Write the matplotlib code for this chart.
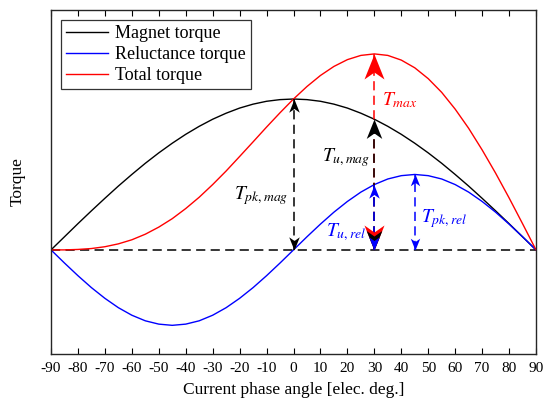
import matplotlib
matplotlib.use("Agg")
import matplotlib.pyplot as plt
from matplotlib.path import Path

plt.rcParams['font.family'] = ['Liberation Serif', 'DejaVu Serif']
plt.rcParams['mathtext.fontset'] = 'stix'

# current phase angle [elec. deg.], 5 deg steps
angle = list(range(-90, 95, 5))

magnet = [0.0, 0.087, 0.174, 0.259, 0.342, 0.423, 0.5, 0.574, 0.643, 0.707,
          0.766, 0.819, 0.866, 0.906, 0.94, 0.966, 0.985, 0.996, 1.0,
          0.996, 0.985, 0.966, 0.94, 0.906, 0.866, 0.819, 0.766, 0.707,
          0.643, 0.574, 0.5, 0.423, 0.342, 0.259, 0.174, 0.087, 0.0]

reluctance = [0.0, -0.087, -0.171, -0.25, -0.321, -0.383, -0.433, -0.47, -0.492,
              -0.5, -0.492, -0.47, -0.433, -0.383, -0.321, -0.25, -0.171, -0.087,
              0.0, 0.087, 0.171, 0.25, 0.321, 0.383, 0.433, 0.47, 0.492, 0.5,
              0.492, 0.47, 0.433, 0.383, 0.321, 0.25, 0.171, 0.087, 0.0]

total = [0.0, 0.0, 0.003, 0.009, 0.021, 0.04, 0.067, 0.104, 0.151, 0.207,
         0.274, 0.349, 0.433, 0.523, 0.619, 0.716, 0.814, 0.909, 1.0,
         1.083, 1.156, 1.216, 1.261, 1.289, 1.299, 1.289, 1.258, 1.207,
         1.135, 1.044, 0.933, 0.806, 0.663, 0.509, 0.345, 0.174, 0.0]

xticks = list(range(-90, 100, 10))

# arrowhead shapes (tip at origin)
up_head = Path([(0, 0), (-0.4, -1), (0, -0.72), (0.4, -1), (0, 0)],
               [Path.MOVETO, Path.LINETO, Path.LINETO, Path.LINETO, Path.CLOSEPOLY])
down_head = Path([(0, 0), (-0.4, 1), (0, 0.72), (0.4, 1), (0, 0)],
                 [Path.MOVETO, Path.LINETO, Path.LINETO, Path.LINETO, Path.CLOSEPOLY])


def value_at(series, a):
    return series[angle.index(a)]


def dim_arrow(ax, x, top, color, size):
    ax.plot([x, x], [0, top], color=color, lw=1.1, dashes=(6, 3.5), zorder=3)
    ax.plot([x], [top], marker=up_head, ms=size, color=color, mew=0, zorder=4)
    ax.plot([x], [0], marker=down_head, ms=size, color=color, mew=0, zorder=4)


fig = plt.figure(figsize=(5.44, 4.04), dpi=100)
ax = fig.add_axes([51 / 544, 50 / 404, 485 / 544, 344 / 404])

ax.plot([-90, 90], [0, 0], color='black', lw=1.1, dashes=(6, 3.5), zorder=2)
ax.plot(angle, magnet, color='black', lw=1.0, label='Magnet torque', zorder=2)
ax.plot(angle, reluctance, color='blue', lw=1.0, label='Reluctance torque', zorder=2)
ax.plot(angle, total, color='red', lw=1.0, label='Total torque', zorder=2)

dim_arrow(ax, 0, value_at(magnet, 0), 'black', 19)
dim_arrow(ax, 30, value_at(total, 30), 'red', 36)
dim_arrow(ax, 30, value_at(magnet, 30), 'black', 28)
dim_arrow(ax, 30, value_at(reluctance, 30), 'blue', 19)
dim_arrow(ax, 45, value_at(reluctance, 45), 'blue', 17)

lab = dict(fontsize=14, va='center', ha='left')
ax.text(32.8, 0.99, r'$T_{max}$', color='red', **lab)
ax.text(10.5, 0.61, r'$T_{u,mag}$', color='black', **lab)
ax.text(-22.0, 0.36, r'$T_{pk,mag}$', color='black', **lab)
ax.text(12.0, 0.12, r'$T_{u,rel}$', color='blue', **lab)
ax.text(47.4, 0.21, r'$T_{pk,rel}$', color='blue', **lab)

ax.set_xlim(-90, 90)
ax.set_ylim(-0.69, 1.59)
ax.set_xticks(xticks)
ax.set_xticklabels([str(t) for t in xticks], fontsize=11)
ax.set_yticks([])
ax.tick_params(axis='x', direction='in', top=True, length=4, width=0.8, pad=6)
for s in ax.spines.values():
    s.set_linewidth(1.0)
    s.set_color('#262626')

ax.set_xlabel('Current phase angle [elec. deg.]', fontsize=12.5, labelpad=5)
ax.set_ylabel('Torque', fontsize=12.5, labelpad=18)

leg = ax.legend(loc='upper left', fontsize=13, frameon=True, fancybox=False,
                framealpha=1, edgecolor='#333333', handlelength=2.3,
                labelspacing=0.22, borderaxespad=0.55, handletextpad=0.4,
                borderpad=0.28)
leg.get_frame().set_linewidth(0.9)

fig.savefig('out.png', dpi=100)
